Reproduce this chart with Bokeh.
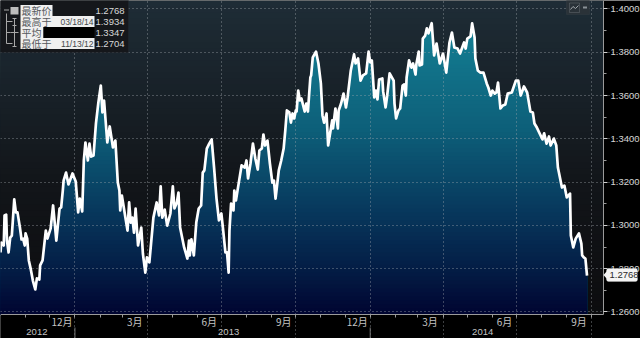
import numpy as np
import pandas as pd
from bokeh.plotting import figure
from bokeh.embed import file_html
from bokeh.resources import INLINE
from bokeh.models import FixedTicker, Label, BoxAnnotation, Range1d

START = pd.Timestamp("2012-10-01")

# days since START
days = [0,1,4,5,7,8,10,12,14,17,19,21,24,26,28,30,31,33,35,37,40,43,45,48,49,52,56,58,62,65,67,69,73,75,77,78,81,84,89,93,96,98,101,103,105,108,110,112,115,118,121,124,126,128,132,135,139,142,145,147,148,150,155,157,159,161,163,165,167,170,174,176,179,181,184,189,193,196,198,200,203,206,210,213,215,218,220,222,227,231,233,234,236,239,242,245,248,250,252,255,258,261,264,267,270,273,275,278,280,282,283,285,288,289,291,296,298,302,304,306,309,312,315,318,320,323,325,327,330,333,336,338,340,344,347,350,352,354,357,359,361,363,365,366,368,370,372,376,378,380,383,384,386,390,393,396,398,400,403,405,410,411,414,417,418,421,424,427,429,433,437,439,442,445,448,452,455,457,459,462,464,466,468,472,473,476,478,481,486,487,489,492,494,497,499,501,502,505,508,510,513,514,517,518,521,522,525,527,529,533,536,539,543,547,551,555,558,561,565,568,573,575,577,581,583,586,587,590,593,597,601,603,606,608,611,613,615,618,621,624,627,632,637,640,643,647,651,655,658,660,663,670,672,675,678,680,684,687,689,694,697,700,704,705,708,711,715,718,719,721,723,725]

price = [1.2875,1.2921,1.2907,1.3046,1.3050,1.2930,1.2875,1.2944,1.2953,1.3120,1.3060,1.3060,1.2990,1.2935,1.2939,1.2907,1.2963,1.2939,1.2838,1.2805,1.2745,1.2704,1.2755,1.2750,1.2815,1.2838,1.2976,1.2939,1.2986,1.3092,1.3013,1.2930,1.3078,1.3083,1.3161,1.3207,1.3244,1.3189,1.3240,1.3203,1.3060,1.3124,1.3064,1.3300,1.3383,1.3300,1.3378,1.3318,1.3323,1.3471,1.3568,1.3646,1.3522,1.3577,1.3383,1.3457,1.3360,1.3392,1.3198,1.3161,1.3069,1.3138,1.3023,1.2976,1.3106,1.3013,1.3036,1.2967,1.3078,1.2907,1.2990,1.2870,1.2782,1.2852,1.2829,1.3036,1.3106,1.3046,1.3180,1.3036,1.3073,1.2999,1.3055,1.3180,1.3078,1.3106,1.3152,1.2990,1.2898,1.2847,1.2930,1.2861,1.2935,1.2861,1.3013,1.3078,1.3092,1.3244,1.3254,1.3355,1.3378,1.3397,1.3267,1.3124,1.3023,1.3055,1.2986,1.2875,1.2875,1.2782,1.2976,1.3101,1.3069,1.3161,1.3115,1.3231,1.3277,1.3267,1.3300,1.3217,1.3286,1.3378,1.3309,1.3258,1.3346,1.3355,1.3420,1.3369,1.3392,1.3286,1.3198,1.3207,1.3124,1.3254,1.3300,1.3355,1.3438,1.3531,1.3522,1.3475,1.3517,1.3494,1.3531,1.3526,1.3623,1.3577,1.3586,1.3526,1.3563,1.3526,1.3683,1.3693,1.3776,1.3803,1.3748,1.3656,1.3508,1.3475,1.3517,1.3369,1.3485,1.3448,1.3540,1.3448,1.3531,1.3563,1.3609,1.3545,1.3591,1.3716,1.3790,1.3748,1.3771,1.3669,1.3693,1.3702,1.3803,1.3753,1.3762,1.3591,1.3623,1.3582,1.3674,1.3679,1.3619,1.3545,1.3600,1.3702,1.3669,1.3563,1.3494,1.3531,1.3540,1.3646,1.3651,1.3600,1.3683,1.3762,1.3729,1.3748,1.3697,1.3743,1.3803,1.3739,1.3743,1.3863,1.3877,1.3910,1.3887,1.3934,1.3785,1.3840,1.3748,1.3794,1.3706,1.3845,1.3891,1.3822,1.3817,1.3794,1.3845,1.3817,1.3863,1.3873,1.3933,1.3868,1.3771,1.3716,1.3706,1.3706,1.3656,1.3637,1.3600,1.3623,1.3609,1.3614,1.3660,1.3540,1.3554,1.3559,1.3609,1.3614,1.3669,1.3669,1.3600,1.3642,1.3614,1.3526,1.3522,1.3471,1.3452,1.3397,1.3425,1.3378,1.3411,1.3369,1.3401,1.3369,1.3267,1.3175,1.3184,1.3129,1.3147,1.2953,1.2898,1.2939,1.2963,1.2916,1.2861,1.2852,1.2847,1.2768]

y_ticks = [1.26, 1.28, 1.30, 1.32, 1.34, 1.36, 1.38, 1.40]
y_minor = [1.27, 1.29, 1.31, 1.33, 1.35, 1.37, 1.39]
month_labels = ["12月", "3月", "6月", "9月", "12月", "3月", "6月", "9月"]
label_months = ["2012-12-16", "2013-03-16", "2013-06-16", "2013-09-16", "2013-12-16", "2014-03-16", "2014-06-16", "2014-09-16"]
years = ["2012", "2013", "2014"]
year_positions = ["2012-11-15", "2013-07-10", "2014-05-20"]
year_breaks = ["2013-01-01", "2014-01-01"]
legend_rows = ["最新价", "最高于", "平均", "最低于"]
legend_dates = ["", "03/18/14", "", "11/13/12"]
legend_values = ["1.2768", "1.3934", "1.3347", "1.2704"]
last_price = "1.2768"

W, H = 640, 338
FW, FH = 603, 314
DAY_PX = 0.809
VAL_PER_PX = 0.000462
Y_TOP = 1.4039


def d(s):
    return (pd.Timestamp(s) - START).days


def px(x):
    return x / DAY_PX


def py(y):
    return Y_TOP - y * VAL_PER_PX


p = figure(width=W, height=H, frame_width=W, frame_height=H, output_backend="svg",
           toolbar_location=None, x_axis_location="below", y_axis_location="right",
           x_range=Range1d(0, px(W)), y_range=Range1d(py(H), py(0)),
           background_fill_color="#000000", border_fill_color="#000000",
           min_border=0, outline_line_color=None)
p.styles = {"position": "absolute", "left": "0px", "top": "0px"}


def lerp(stops, t):
    xs = [s[0] for s in stops]
    return tuple(int(round(np.interp(t, xs, [s[1][i] for s in stops]))) for i in range(3))


# background gradient
bg_stops = [(0, (30, 44, 54)), (90, (24, 33, 40)), (180, (18, 21, 25)), (314, (12, 12, 14))]
for e in np.arange(0, FH, 6):
    r, g, b = lerp(bg_stops, e)
    p.quad(left=0, right=px(FW), top=py(e), bottom=py(FH), fill_color=f"#{r:02x}{g:02x}{b:02x}",
           line_color=None, level="image")

# area fill, painted from the top down in nested bands
fill_stops = [(20, (20, 128, 148)), (130, (13, 94, 120)), (200, (8, 60, 96)), (260, (4, 32, 72)), (314, (0, 4, 48))]
parr = np.array(price)
xarr = np.array(days, dtype=float)
for e in np.arange(16, FH, 4):
    r, g, b = lerp(fill_stops, e)
    p.varea(x=xarr, y1=np.full(len(parr), py(FH)), y2=np.minimum(parr, py(e)),
            fill_color=f"#{r:02x}{g:02x}{b:02x}", level="image")

# white price line
p.line(days, price, line_color="#ffffff", line_width=2.7, line_join="round")

# ticks and grid
months = pd.date_range("2012-11-01", "2014-10-01", freq="MS")
month_days = [(m - START).days for m in months]
quarter_days = [(m - START).days for m in months if m.month in (1, 4, 7, 10)]

xax = p.xaxis[0]
xax.fixed_location = py(FH)
xax.bounds = (0, px(FW))
xax.ticker = FixedTicker(ticks=[d(s) for s in label_months], minor_ticks=month_days)
xax.major_label_overrides = {d(s): t for s, t in zip(label_months, month_labels)}
xax.major_tick_out = 0
xax.major_tick_in = 0
xax.minor_tick_out = 3
xax.minor_tick_in = 0
xax.minor_tick_line_color = "#9a9a9a"
xax.axis_line_color = "#9a9a9a"
xax.axis_line_width = 1
xax.major_label_text_color = "#c4c4c4"
xax.major_label_text_font = "Noto Sans CJK SC"
xax.major_label_text_font_size = "10px"
xax.major_label_standoff = -4

yax = p.yaxis[0]
yax.fixed_location = px(FW)
yax.bounds = (py(FH), py(0))
yax.ticker = FixedTicker(ticks=y_ticks, minor_ticks=y_minor)
yax.major_label_overrides = {t: f"{t:.4f}" for t in y_ticks}
yax.major_tick_out = 4
yax.major_tick_in = 0
yax.minor_tick_out = 3
yax.minor_tick_in = 0
yax.major_tick_line_color = "#d0d0d0"
yax.minor_tick_line_color = "#9a9a9a"
yax.axis_line_color = "#9a9a9a"
yax.major_label_text_color = "#d4d4d4"
yax.major_label_text_font = "Liberation Sans"
yax.major_label_text_font_size = "9.5px"
yax.major_label_standoff = 3

p.xgrid[0].ticker = FixedTicker(ticks=quarter_days)
p.ygrid[0].ticker = FixedTicker(ticks=y_ticks)
p.xgrid[0].bounds = (py(FH), py(0))
p.ygrid[0].bounds = (0, px(FW))
for g in (p.xgrid[0], p.ygrid[0]):
    g.grid_line_color = "#a4aaae"
    g.grid_line_dash = "1 3"
    g.grid_line_width = 1
    g.grid_line_alpha = 0.75


def box(l, t, r, b, fill, line=None, radius=0):
    p.add_layout(BoxAnnotation(left=px(l), right=px(r), top=py(t), bottom=py(b), fill_color=fill,
                               fill_alpha=1, line_color=line, level="annotation", border_radius=radius))


def txt(x, y, s, color, font="Liberation Sans", size="10px", align="left"):
    p.add_layout(Label(x=px(x), y=py(y), text=s, text_color=color, text_font=font, text_font_size=size,
                       text_align=align, text_baseline="middle", level="overlay"))


# year row under the month labels
box(-1, 315, 1, 339, "#000000")
for s, t in zip(year_positions, years):
    txt(d(s) * DAY_PX, 331.5, t, "#c4c4c4", size="9.5px", align="center")
for s in year_breaks:
    x0 = d(s) * DAY_PX
    box(x0 - 0.5, 327, x0 + 0.5, 339, "#777777")

# legend panel
box(-1, -1, 128, 52, "#15171b", "#2c2f34")
row_y = [10, 21, 32, 43]
row_right = [52, 94, 43, 94]
for yy, rr in zip(row_y, row_right):
    box(20, yy - 5.5, rr, yy + 5.5, "#f0f0f0")
box(43, 26.5, 94, 37.5, "#000000")
for yy, name, dt, val in zip(row_y, legend_rows, legend_dates, legend_values):
    txt(21, yy, name, "#55585c", font="Noto Sans CJK SC", size="10px")
    if dt:
        txt(93, yy, dt, "#44474a", size="8.5px", align="right")
    txt(124, yy, val, "#d8d8d8", size="9.5px", align="right")
box(10, 6.5, 18, 14, "#bdbdbd")

seg = dict(line_color="#a8a8a8", line_width=1, level="overlay")
p.segment([px(6), px(6), px(6), px(6), px(3.5), px(14), px(12), px(10), px(14), px(12), px(14), px(12)],
          [py(13), py(21), py(32), py(43), py(9.5), py(18), py(18), py(32), py(25), py(25), py(37), py(46)],
          [px(6), px(12), px(10), px(12), px(8.5), px(14), px(16), px(18), px(14), px(16), px(14), px(16)],
          [py(43), py(21), py(32), py(43), py(9.5), py(25), py(18), py(32), py(38), py(25), py(46), py(46)], **seg)

# chart-type button
box(566, -1, 589, 14, "#2a3238", "#3a4148")
box(569, 2.5, 579, 12, "#2a3238", "#8a9196")
p.line([px(570), px(572.5), px(575), px(578)], [py(9), py(6), py(8), py(5)], line_color="#a0a6aa", line_width=1, level="overlay")
p.segment([px(582.5)], [py(7)], [px(586.5)], [py(7)], line_color="#8a9196", line_width=2, level="overlay")

# last price tag
box(606, 268, 637, 281, "#f4f4f4", "#cccccc", radius=2)
p.patch([px(603), px(607), px(607)], [py(274.5), py(270), py(279)], fill_color="#f4f4f4", line_color=None, level="overlay")
txt(609, 274.7, last_price, "#2a2a2a", size="9.5px")

open("out.html", "w").write(file_html(p, INLINE))
